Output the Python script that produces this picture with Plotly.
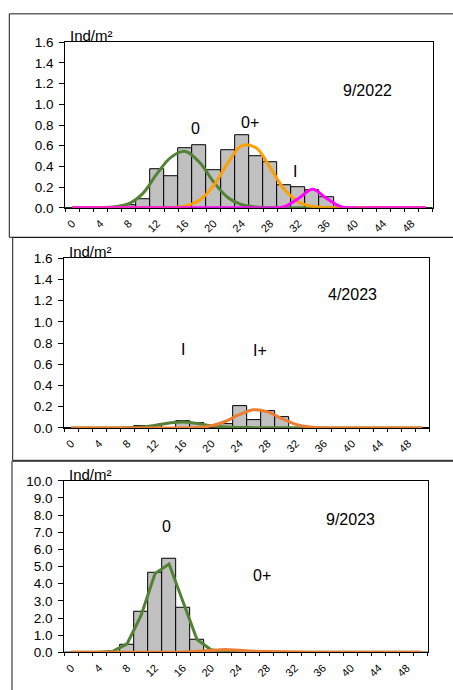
import plotly.graph_objects as go

# Length classes (mm), one bar per 2 mm class
LENGTHS = list(range(0, 52, 2))
TICK_VALUES = list(range(0, 49, 4))
TICK_LABELS = [str(v) for v in TICK_VALUES]

# --- 9/2022 -------------------------------------------------------------
BARS_2209 = [0, 0, 0, 0, 0.03, 0.08, 0.375, 0.305, 0.58, 0.605, 0.36, 0.56, 0.70,
             0.50, 0.445, 0.22, 0.20, 0.173, 0.10, 0, 0, 0, 0, 0, 0, 0]
COHORT0_2209 = [0, 0, 0.002, 0.01, 0.04, 0.14, 0.33, 0.49, 0.545, 0.44, 0.25, 0.10, 0.03,
                0.008, 0.001, 0, 0, 0, 0, 0, 0, 0, 0, 0, 0, 0]
COHORT0P_2209 = [0, 0, 0, 0, 0, 0, 0, 0.003, 0.018, 0.074, 0.215, 0.433, 0.602,
                 0.580, 0.388, 0.179, 0.057, 0.013, 0.002, 0, 0, 0, 0, 0, 0, 0]
COHORTI_2209 = [0, 0, 0, 0, 0, 0, 0, 0, 0, 0, 0, 0, 0,
                0, 0, 0.011, 0.09, 0.18, 0.09, 0.011, 0, 0, 0, 0, 0, 0]

# --- 4/2023 -------------------------------------------------------------
BARS_2304 = [0, 0, 0, 0, 0, 0.015, 0.015, 0, 0.067, 0.049, 0, 0.037, 0.208,
             0.074, 0.162, 0.104, 0, 0, 0, 0, 0, 0, 0, 0, 0, 0]
COHORTI_2304 = [0, 0, 0, 0, 0.002, 0.0085, 0.025, 0.046, 0.055, 0.042, 0.021, 0.008, 0.004,
                0.003, 0.002, 0.001, 0.001, 0, 0, 0, 0, 0, 0, 0, 0, 0]
COHORTIP_2304 = [0, 0, 0, 0, 0, 0, 0, 0, 0, 0.004, 0.02, 0.063, 0.127,
                 0.171, 0.151, 0.088, 0.034, 0.0085, 0.0014, 0, 0, 0, 0, 0, 0, 0]

# --- 9/2023 -------------------------------------------------------------
BARS_2309 = [0, 0, 0, 0, 0.46, 2.34, 4.62, 5.46, 2.62, 0.76, 0, 0, 0,
             0, 0, 0, 0, 0, 0, 0, 0, 0, 0, 0, 0, 0]
COHORT0_2309 = [0, 0, 0, 0.07, 0.5, 2.15, 4.6, 5.15, 2.95, 0.75, 0.15, 0.02, 0,
                0, 0, 0, 0, 0, 0, 0, 0, 0, 0, 0, 0, 0]
COHORT0P_2309 = [0, 0, 0, 0, 0, 0, 0, 0, 0.02, 0.07, 0.14, 0.17, 0.12,
                 0.06, 0.05, 0.05, 0.02, 0, 0, 0, 0, 0, 0, 0, 0, 0]

W, H = 453, 690
FONT = "Liberation Sans, Arial, sans-serif"
GREEN = "#548235"
ORANGE_BRIGHT = "#FFA000"
ORANGE = "#ED7D31"
MAGENTA = "#FF00FF"
FRAME = "#1a1a1a"


def px_x(p):
    return p / W


def px_y(p):
    return 1 - p / H


panels = [
    dict(
        bars=BARS_2209,
        lines=[(COHORT0_2209, GREEN), (COHORT0P_2209, ORANGE_BRIGHT), (COHORTI_2209, MAGENTA)],
        shape="spline",
        xdom=(64.3, 432.7), ydom=(36.0, 205.3),
        yrange=(0, 1.6), dtick=0.2,
        box=(8.3, 7.0, 235.4),
        date=("9/2022", 41.8, 1.13),
        labels=[("0", 17.4, 0.77), ("0+", 25.1, 0.82), ("I", 31.5, 0.35)],
    ),
    dict(
        bars=BARS_2304,
        lines=[(COHORTI_2304, GREEN), (COHORTIP_2304, ORANGE)],
        shape="spline",
        xdom=(63.3, 429.3), ydom=(256.7, 430.3),
        yrange=(0, 1.6), dtick=0.2,
        box=(11.7, 235.6, 463.4),
        date=("4/2023", 40.1, 1.253),
        labels=[("I", 15.9, 0.737), ("I+", 26.9, 0.725)],
    ),
    dict(
        bars=BARS_2309,
        lines=[(COHORT0_2309, GREEN), (COHORT0P_2309, ORANGE)],
        shape="linear",
        xdom=(63.3, 427.7), ydom=(484.3, 659.7),
        yrange=(0, 10), dtick=1.0,
        box=(11.0, 464.3, 700.0),
        date=("9/2023", 40.0, 7.74),
        labels=[("0", 13.6, 7.34), ("0+", 27.3, 4.49)],
    ),
]

fig = go.Figure()
layout = dict(
    width=W, height=H,
    margin=dict(l=0, r=0, t=0, b=0),
    paper_bgcolor="white", plot_bgcolor="white",
    showlegend=False, bargap=0,
    font=dict(family=FONT, color="black"),
    shapes=[], annotations=[],
)

boundaries = [v - 1 for v in LENGTHS] + [LENGTHS[-1] + 1]
n = len(panels)

for i, p in enumerate(panels):
    k = "" if i == 0 else str(i + 1)
    xa, ya = "x" + k, "y" + k
    ko = str(i + 1 + n)  # overlay axes carrying the inner half of the cross ticks

    fig.add_trace(go.Bar(
        x=LENGTHS, y=p["bars"], width=2,
        marker=dict(color="#C0C0C0", line=dict(color="black", width=1)),
        xaxis=xa, yaxis=ya,
    ))
    for vals, col in p["lines"]:
        fig.add_trace(go.Scatter(
            x=LENGTHS, y=vals, mode="lines",
            line=dict(color=col, width=3, shape=p["shape"], smoothing=1.0),
            xaxis=xa, yaxis=ya, cliponaxis=False,
        ))

    xdom = [px_x(p["xdom"][0]), px_x(p["xdom"][1])]
    ydom = [px_y(p["ydom"][1]), px_y(p["ydom"][0])]

    layout["xaxis" + k] = dict(
        domain=xdom, anchor=ya, range=[-1, 51],
        tickmode="array", tickvals=TICK_VALUES, ticktext=TICK_LABELS,
        tickangle=-45, ticks="", ticklabelstandoff=4,
        tickfont=dict(size=11, family=FONT, color="black"),
        minor=dict(tickmode="array", tickvals=boundaries, ticks="outside",
                   ticklen=3, tickcolor="black", tickwidth=1),
        showline=True, linecolor="black", linewidth=1, mirror=True,
        showgrid=False, zeroline=False, fixedrange=True,
    )
    layout["yaxis" + k] = dict(
        domain=ydom, anchor=xa, range=list(p["yrange"]),
        dtick=p["dtick"], tick0=0, tickformat=".1f",
        ticks="outside", ticklen=5, tickcolor="black", tickwidth=1,
        ticklabelstandoff=3,
        tickfont=dict(size=13.5, family=FONT, color="black"),
        showline=True, linecolor="black", linewidth=1, mirror=True,
        showgrid=False, zeroline=False, fixedrange=True,
    )
    layout["xaxis" + ko] = dict(
        domain=xdom, anchor=ya, overlaying=xa, range=[-1, 51],
        showticklabels=False, ticks="", tickvals=[],
        minor=dict(tickmode="array", tickvals=boundaries, ticks="inside",
                   ticklen=3, tickcolor="black", tickwidth=1),
        showline=False, showgrid=False, zeroline=False, fixedrange=True,
    )
    layout["yaxis" + ko] = dict(
        domain=ydom, anchor=xa, overlaying=ya, range=list(p["yrange"]),
        dtick=p["dtick"], tick0=0, showticklabels=False,
        ticks="inside", ticklen=4, tickcolor="black", tickwidth=1,
        showline=False, showgrid=False, zeroline=False, fixedrange=True,
    )

    # panel frame: left, top and bottom edges (it runs on past the right edge)
    bx, by0, by1 = p["box"]
    for x0, y0, x1, y1 in [(bx, by0, W, by0), (bx, by1, W, by1), (bx, by0, bx, by1)]:
        layout["shapes"].append(dict(
            type="line", xref="paper", yref="paper",
            x0=px_x(x0), y0=px_y(y0), x1=px_x(x1), y1=px_y(y1),
            line=dict(color=FRAME, width=1), layer="below",
        ))

    # unit label sitting on the top edge of the plot area
    layout["annotations"].append(dict(
        text="Ind/m²", xref="paper", yref="paper",
        x=px_x(p["xdom"][0] + 2.5), y=px_y(p["ydom"][0]),
        xanchor="left", yanchor="bottom", yshift=-4, showarrow=False,
        font=dict(size=15, family=FONT, color="black"),
    ))
    text, dx, dy = p["date"]
    layout["annotations"].append(dict(
        text=text, xref=xa, yref=ya, x=dx, y=dy, showarrow=False,
        xanchor="center", yanchor="middle",
        font=dict(size=16, family=FONT, color="black"),
    ))
    for text, lx, ly in p["labels"]:
        layout["annotations"].append(dict(
            text=text, xref=xa, yref=ya, x=lx, y=ly, showarrow=False,
            xanchor="center", yanchor="middle",
            font=dict(size=16, family=FONT, color="black"),
        ))

fig.update_layout(**layout)
fig.write_html("out.html")
